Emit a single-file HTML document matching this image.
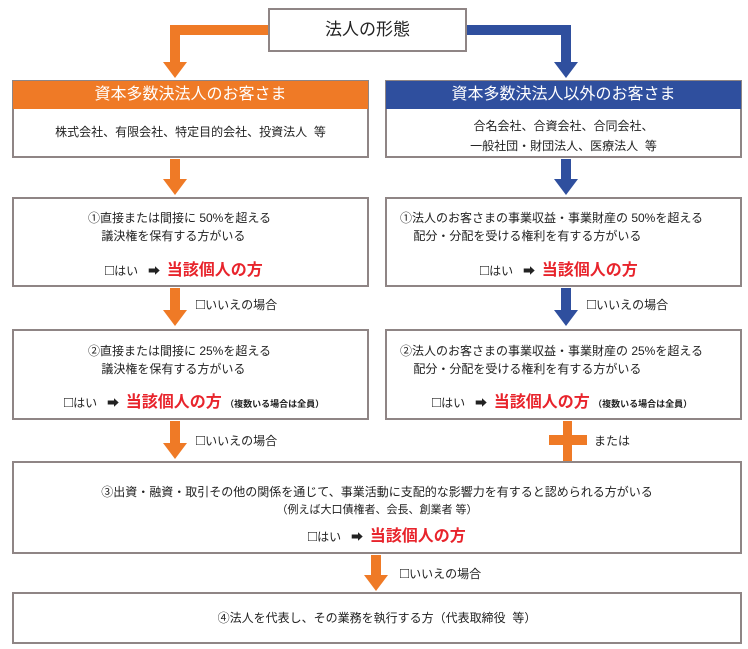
<!DOCTYPE html>
<html><head><meta charset="utf-8"><style>
body{margin:0;width:748px;height:649px;background:#fff;position:relative;font-family:"Liberation Sans","Noto Sans CJK JP",sans-serif;color:#222;overflow:hidden}
.b{position:absolute;border:2px solid #8f8585;background:#fff;box-sizing:border-box;text-align:center}
.h{position:absolute;color:#fff;text-align:center;font-size:16px;line-height:28px}
.t{position:absolute;font-size:12px;white-space:nowrap}
.r{color:#e8242c;font-weight:bold;font-size:16px}
.s{font-size:9px;font-weight:bold}
.c{font-size:15px;line-height:12px}
.bar{position:absolute}
.o{background:#ef7a26}.bl{background:#2f4f9e}
.tri{position:absolute;width:0;height:0;border-left:12px solid transparent;border-right:12px solid transparent}
.to{border-top:16px solid #ef7a26}.tb{border-top:16px solid #2f4f9e}
</style></head><body>
<div class="b" style="left:268px;top:8px;width:199px;height:44px;font-size:17px;line-height:40px">法人の形態</div>
<div class="bar o" style="left:170px;top:25px;width:98px;height:10px"></div>
<div class="bar o" style="left:170px;top:25px;width:10px;height:40px"></div>
<div class="tri to" style="left:163px;top:62px"></div>
<div class="bar bl" style="left:467px;top:25px;width:104px;height:10px"></div>
<div class="bar bl" style="left:561px;top:25px;width:10px;height:40px"></div>
<div class="tri tb" style="left:554px;top:62px"></div>

<div class="b" style="left:12px;top:80px;width:357px;height:78px"></div>
<div class="h o" style="left:13px;top:81px;width:355px;height:28px">資本多数決法人のお客さま</div>
<div class="t" style="left:12px;width:357px;text-align:center;top:123px">株式会社、有限会社、特定目的会社、投資法人&nbsp;&nbsp;等</div>
<div class="b" style="left:385px;top:80px;width:357px;height:78px"></div>
<div class="h bl" style="left:386px;top:81px;width:355px;height:28px">資本多数決法人以外のお客さま</div>
<div class="t" style="left:385px;width:357px;text-align:center;top:116px;line-height:20px">合名会社、合資会社、合同会社、<br>一般社団・財団法人、医療法人&nbsp;&nbsp;等</div>

<div class="bar o" style="left:170px;top:159px;width:10px;height:22px"></div>
<div class="tri to" style="left:163px;top:179px"></div>
<div class="bar bl" style="left:561px;top:159px;width:10px;height:22px"></div>
<div class="tri tb" style="left:554px;top:179px"></div>

<div class="b" style="left:12px;top:197px;width:357px;height:90px"></div>
<div class="t" style="left:88px;top:209px;line-height:18px">①直接または間接に 50%を超える<br>&nbsp;&nbsp;&nbsp;&nbsp;議決権を保有する方がいる</div>
<div class="t" style="left:105px;top:256px"><span class="c">□</span>はい&nbsp;&nbsp;&nbsp;➡&nbsp;&nbsp;<span class="r">当該個人の方</span></div>
<div class="b" style="left:385px;top:197px;width:357px;height:90px"></div>
<div class="t" style="left:400px;top:209px;line-height:18px">①法人のお客さまの事業収益・事業財産の 50%を超える<br>&nbsp;&nbsp;&nbsp;&nbsp;配分・分配を受ける権利を有する方がいる</div>
<div class="t" style="left:480px;top:256px"><span class="c">□</span>はい&nbsp;&nbsp;&nbsp;➡&nbsp;&nbsp;<span class="r">当該個人の方</span></div>

<div class="bar o" style="left:170px;top:288px;width:10px;height:24px"></div>
<div class="tri to" style="left:163px;top:310px"></div>
<div class="t" style="left:196px;top:296px"><span class="c">□</span>いいえの場合</div>
<div class="bar bl" style="left:561px;top:288px;width:10px;height:24px"></div>
<div class="tri tb" style="left:554px;top:310px"></div>
<div class="t" style="left:587px;top:296px"><span class="c">□</span>いいえの場合</div>

<div class="b" style="left:12px;top:329px;width:357px;height:91px"></div>
<div class="t" style="left:88px;top:342px;line-height:18px">②直接または間接に 25%を超える<br>&nbsp;&nbsp;&nbsp;&nbsp;議決権を保有する方がいる</div>
<div class="t" style="left:64px;top:388px"><span class="c">□</span>はい&nbsp;&nbsp;&nbsp;➡&nbsp;&nbsp;<span class="r">当該個人の方</span> <span class="s">（複数いる場合は全員）</span></div>
<div class="b" style="left:385px;top:329px;width:357px;height:91px"></div>
<div class="t" style="left:400px;top:342px;line-height:18px">②法人のお客さまの事業収益・事業財産の 25%を超える<br>&nbsp;&nbsp;&nbsp;&nbsp;配分・分配を受ける権利を有する方がいる</div>
<div class="t" style="left:432px;top:388px"><span class="c">□</span>はい&nbsp;&nbsp;&nbsp;➡&nbsp;&nbsp;<span class="r">当該個人の方</span> <span class="s">（複数いる場合は全員）</span></div>

<div class="bar o" style="left:170px;top:421px;width:10px;height:24px"></div>
<div class="tri to" style="left:163px;top:443px"></div>
<div class="t" style="left:196px;top:432px"><span class="c">□</span>いいえの場合</div>
<div class="bar o" style="left:563px;top:421px;width:9px;height:40px"></div>
<div class="bar o" style="left:549px;top:435px;width:38px;height:10px"></div>
<div class="t" style="left:594px;top:432px">または</div>

<div class="b" style="left:12px;top:461px;width:730px;height:93px"></div>
<div class="t" style="left:12px;width:730px;text-align:center;top:483px">③出資・融資・取引その他の関係を通じて、事業活動に支配的な影響力を有すると認められる方がいる</div>
<div class="t" style="left:12px;width:730px;text-align:center;top:501px;font-size:11px">（例えば大口債権者、会長、創業者 等）</div>
<div class="t" style="left:308px;top:522px"><span class="c">□</span>はい&nbsp;&nbsp;&nbsp;➡&nbsp;&nbsp;<span class="r">当該個人の方</span></div>

<div class="bar o" style="left:371px;top:555px;width:10px;height:22px"></div>
<div class="tri to" style="left:364px;top:575px"></div>
<div class="t" style="left:400px;top:565px"><span class="c">□</span>いいえの場合</div>

<div class="b" style="left:12px;top:592px;width:730px;height:52px;font-size:12px;line-height:48px">④法人を代表し、その業務を執行する方（代表取締役&nbsp;&nbsp;等）</div>
</body></html>
